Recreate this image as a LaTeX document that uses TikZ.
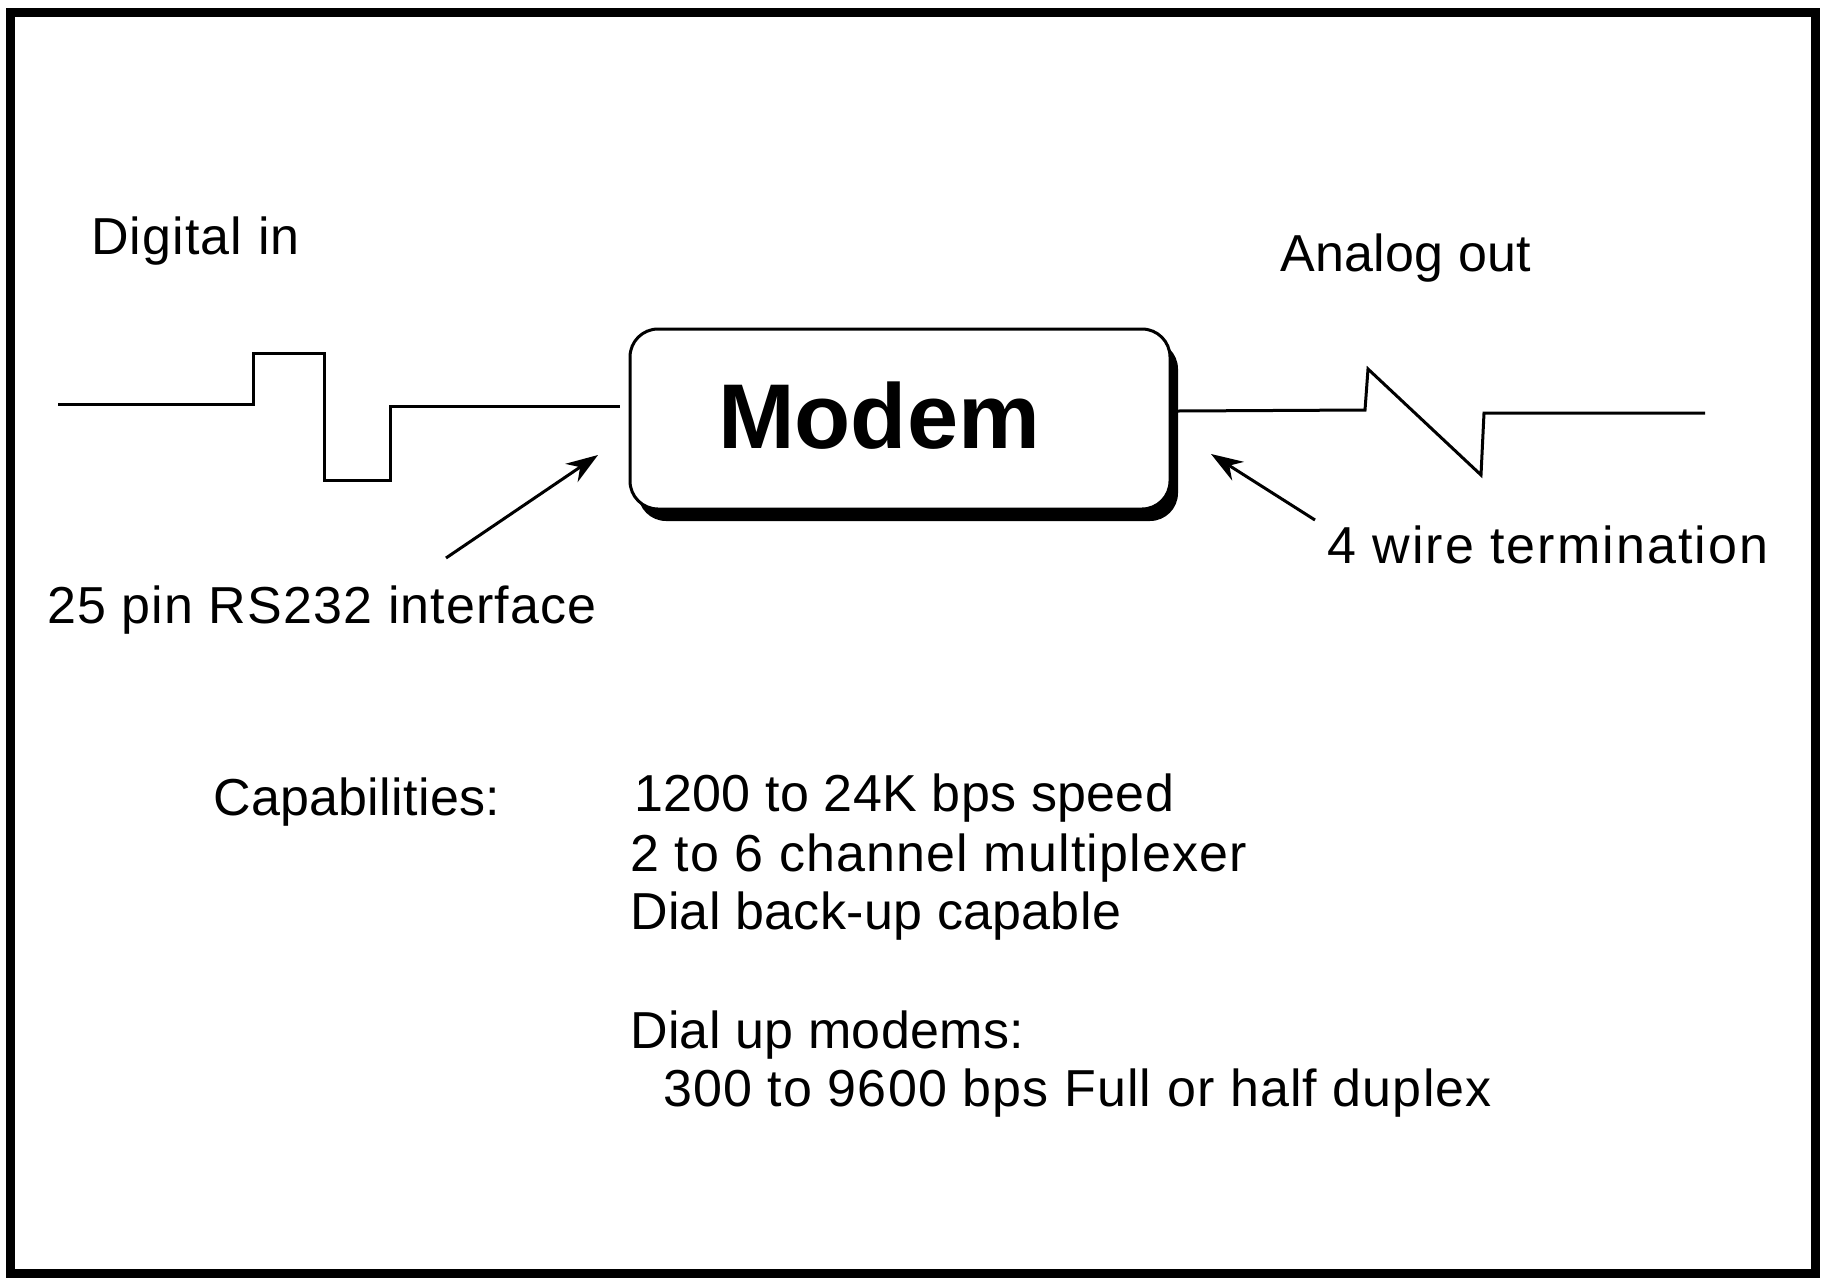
\documentclass[tikz,border=0pt]{standalone}
\usepackage{fontspec}
\setmainfont{Liberation Sans}
\newfontfamily\labelfont[LetterSpace=2.2]{Liberation Sans}
\newfontfamily\labelfonttight[LetterSpace=0.6]{Liberation Sans}
\newfontfamily\labelfontwide[LetterSpace=3.9]{Liberation Sans}
\usetikzlibrary{arrows.meta,shadows}
\begin{document}
\begin{tikzpicture}[x=1pt,y=-1pt,
  txt/.style={anchor=base west,inner sep=0pt,font=\labelfont\fontsize{52}{60}\selectfont},
  txttight/.style={txt,font=\labelfonttight\fontsize{52}{60}\selectfont},
  txtwide/.style={txt,font=\labelfontwide\fontsize{52}{60}\selectfont},
  wave/.style={line width=3pt,line join=miter},
  pointer/.style={line width=3pt,-{Stealth[length=32pt,width=22pt]}},
  modembox/.style={draw,line width=3pt,rounded corners=28pt,fill=white,
    minimum width=540pt,minimum height=180pt,inner sep=0pt,
    drop shadow={shadow xshift=8pt,shadow yshift=-12pt,fill=black,opacity=1}}]
\useasboundingbox (0,0) rectangle (1825,1277);
% outer frame
\draw[line width=9pt] (10.5,12.5) rectangle (1815,1273);

% the modem block
\node[modembox] (modem) at (900,419) {};
\node[anchor=base,inner sep=0pt,font=\fontsize{92}{100}\selectfont\bfseries] (modemtitle) at (879,448) {Modem};

% digital side: square pulse feeding the modem
\coordinate (digstart) at (58,404);
\coordinate (digend) at (620,406);
\draw[wave] (digstart) -- (253,404) -- (253,353) -- (324,353) -- (324,480)
  -- (390,480) -- (390,406) -- (digend);

% analog side: sawtooth leaving the modem
\coordinate (anastart) at (1178,411);
\coordinate (anaend) at (1705,413);
\draw[wave] (anastart) -- (1365,410) -- (1368,369) -- (1481,475) -- (1484,413) -- (anaend);

% labels
\node[txt] (digin) at (91,254) {Digital in};
\node[txttight] (anaout) at (1280,271) {Analog out};
\node[txt] (rs232) at (47,623) {25 pin RS232 interface};
\node[txtwide] (fourwire) at (1327,563) {4 wire termination};

% pointers
\coordinate (rstail) at (446,558);
\coordinate (rstip) at (598,455);
\draw[pointer] (rstail) -- (rstip);
\coordinate (fwtail) at (1315,520);
\coordinate (fwtip) at (1211,454);
\draw[pointer] (fwtail) -- (fwtip);

% capabilities list
\node[txttight] (caphead) at (213,815) {Capabilities:};
\node[txttight] (cap1) at (634,811) {1200 to 24K bps speed};
\node[txt] (cap2) at (630,871) {2 to 6 channel multiplexer};
\node[txttight] (cap3) at (630,929) {Dial back-up capable};
\node[txttight] (dialhead) at (630,1048) {Dial up modems:};
\node[txt] (dial1) at (663,1106) {300 to 9600 bps Full or half duplex};
\end{tikzpicture}
\end{document}
